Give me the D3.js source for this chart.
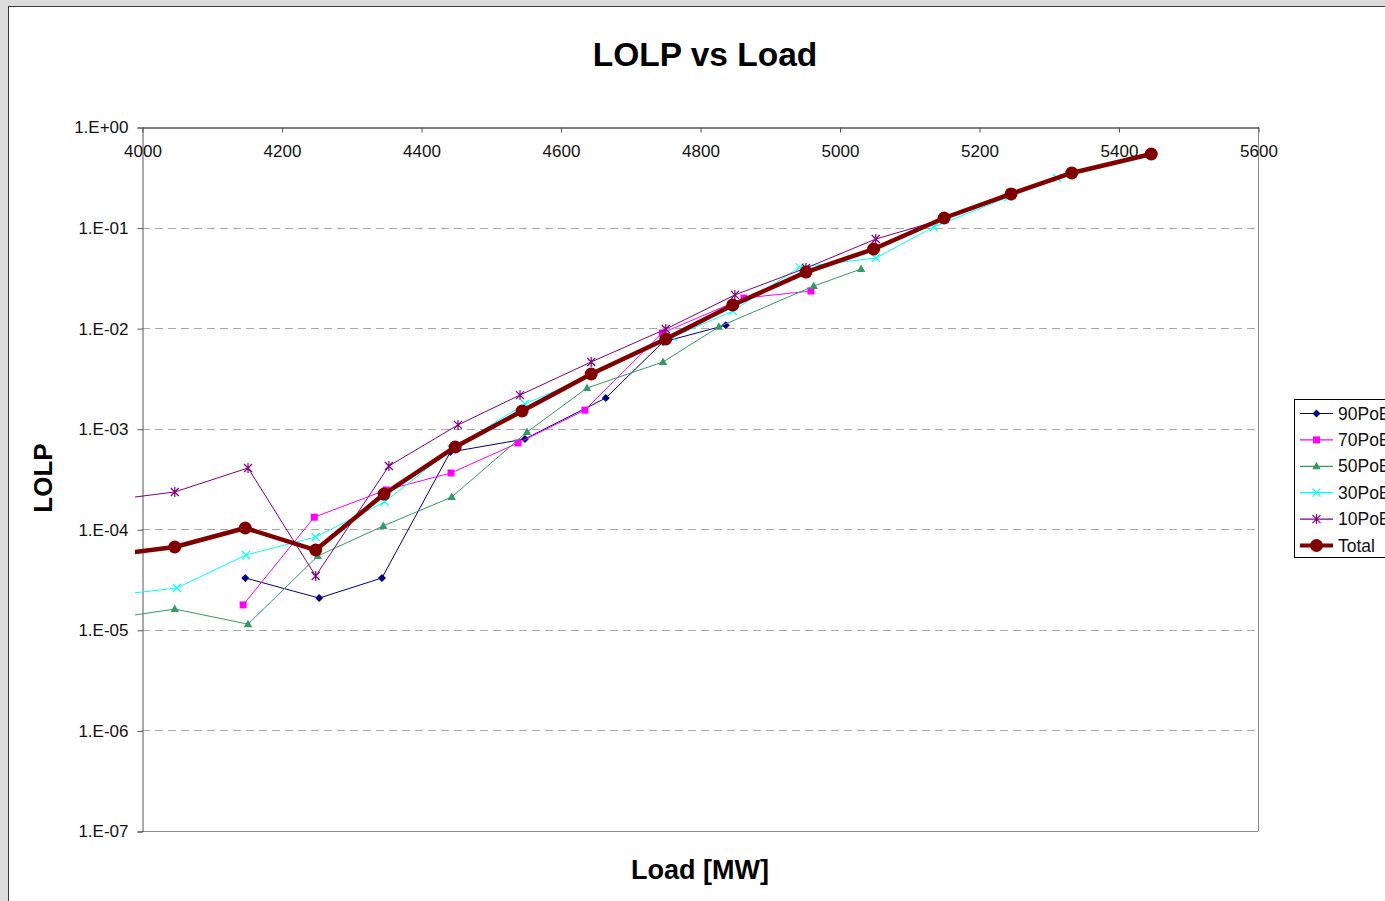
<!DOCTYPE html>
<html>
<head>
<meta charset="utf-8">
<script src="https://cdn.jsdelivr.net/npm/d3@7"></script>
<style>
  html, body { margin: 0; padding: 0; background: #dcdcdc; }
  svg { display: block; }
  text { font-family: "Liberation Sans", Arial, Helvetica, sans-serif; }
</style>
</head>
<body>
<svg id="chart" width="1385" height="901"></svg>
<script>
// Load levels [MW] and LOLP per series
const load90 = [4148, 4254, 4344, 4442, 4549, 4665, 4747, 4837];
const lolp90 = [3.28e-5, 2.07e-5, 3.28e-5, 5.86e-4, 7.9e-4, 2.02e-3, 7.28e-3, 0.0107];

const load70 = [4145, 4247, 4350, 4443, 4539, 4635, 4746, 4863, 4959];
const lolp70 = [1.77e-5, 1.32e-4, 2.46e-4, 3.63e-4, 7.21e-4, 1.53e-3, 8.95e-3, 0.0199, 0.0234];

const load50 = [3950, 4047, 4152, 4252, 4346, 4444, 4552, 4638, 4747, 4827, 4963, 5031];
const lolp50 = [1.28e-5, 1.61e-5, 1.14e-5, 5.42e-5, 1.08e-4, 2.09e-4, 9.27e-4, 2.54e-3, 4.61e-3, 0.0103, 0.0262, 0.0387];

const load30 = [3950, 4050, 4149, 4249, 4348, 4444, 4549, 4645, 4761, 4847, 4943, 5052, 5135, 5242, 5312];
const lolp30 = [2.17e-5, 2.61e-5, 5.55e-5, 8.38e-5, 1.87e-4, 6.29e-4, 1.76e-3, 3.42e-3, 8.17e-3, 0.0148, 0.0405, 0.0498, 0.1014, 0.201, 0.311];

const load10 = [3950, 4047, 4152, 4249, 4354, 4453, 4542, 4644, 4751, 4850, 4952, 5052, 5150, 5246, 5333, 5447];
const lolp10 = [1.93e-4, 2.35e-4, 4.07e-4, 3.43e-5, 4.26e-4, 1.09e-3, 2.16e-3, 4.61e-3, 9.8e-3, 0.0214, 0.0396, 0.0769, 0.1217, 0.221, 0.357, 0.539];

const loadTotal = [3950, 4047, 4148, 4249, 4347, 4449, 4545, 4644, 4751, 4847, 4952, 5049, 5150, 5246, 5333, 5447];
const lolpTotal = [5.48e-5, 6.67e-5, 1.03e-4, 6.22e-5, 2.24e-4, 6.58e-4, 1.5e-3, 3.5e-3, 7.8e-3, 0.017, 0.0361, 0.0612, 0.1245, 0.216, 0.349, 0.539];

const seriesNames = ["90PoE", "70PoE", "50PoE", "30PoE", "10PoE", "Total"];
const xTicks = [4000, 4200, 4400, 4600, 4800, 5000, 5200, 5400, 5600];
const yTicks = [1, 1e-1, 1e-2, 1e-3, 1e-4, 1e-5, 1e-6, 1e-7];

const series = [
  { name: seriesNames[0], load: load90, lolp: lolp90, color: "#000080", marker: "diamond", width: 1 },
  { name: seriesNames[1], load: load70, lolp: lolp70, color: "#ff00ff", marker: "square", width: 1 },
  { name: seriesNames[2], load: load50, lolp: lolp50, color: "#339966", marker: "triangle", width: 1 },
  { name: seriesNames[3], load: load30, lolp: lolp30, color: "#00ffff", marker: "cross", width: 1 },
  { name: seriesNames[4], load: load10, lolp: lolp10, color: "#800080", marker: "star", width: 1 },
  { name: seriesNames[5], load: loadTotal, lolp: lolpTotal, color: "#800000", marker: "circle", width: 4.5 }
];

const svg = d3.select("#chart");

// chart panel
svg.append("rect").attr("x", 8.5).attr("y", 6.5).attr("width", 1400).attr("height", 920)
  .attr("fill", "#ffffff").attr("stroke", "#3a3a3a").attr("stroke-width", 1);

const plot = { left: 142, right: 1258, top: 127, bottom: 831 };
const x = d3.scaleLinear().domain([4000, 5600]).range([plot.left, plot.right]);
const y = d3.scaleLog().domain([1e-7, 1]).range([plot.bottom, plot.top]);

// gridlines
svg.append("g").selectAll("line").data(yTicks.filter(v => v < 1 && v > 1e-7)).join("line")
  .attr("x1", plot.left).attr("x2", plot.right)
  .attr("y1", d => Math.round(y(d)) + 0.5).attr("y2", d => Math.round(y(d)) + 0.5)
  .attr("stroke", "#a8a8a8").attr("stroke-width", 1).attr("stroke-dasharray", "8,5");

// plot frame: right and bottom edges
svg.append("line").attr("x1", plot.right + 0.5).attr("x2", plot.right + 0.5)
  .attr("y1", plot.top).attr("y2", plot.bottom).attr("stroke", "#8c8c8c");
svg.append("line").attr("x1", plot.left).attr("x2", plot.right)
  .attr("y1", plot.bottom + 0.5).attr("y2", plot.bottom + 0.5).attr("stroke", "#8c8c8c");

// y axis (log)
const fmtExp = v => {
  const e = Math.round(Math.log10(v));
  const s = e < 0 ? "-" : "+";
  return "1.E" + s + String(Math.abs(e)).padStart(2, "0");
};
const yAxis = d3.axisLeft(y).tickValues(yTicks).tickFormat(fmtExp).tickSize(5).tickPadding(9);
const gy = svg.append("g").attr("transform", `translate(${plot.left + 0.5},0.5)`).call(yAxis);
gy.select(".domain").attr("stroke", "#555");
gy.selectAll(".tick line").attr("stroke", "#555");
gy.selectAll("text").attr("font-size", 17).attr("fill", "#111");

// x axis along the top edge, labels beneath the line
const xAxis = d3.axisBottom(x).tickValues(xTicks).tickFormat(d3.format("d")).tickSize(5).tickPadding(12).tickSizeOuter(0);
const gx = svg.append("g").attr("transform", `translate(0.5,${plot.top + 0.5})`).call(xAxis);
gx.select(".domain").attr("stroke", "#000");
gx.selectAll(".tick line").attr("stroke", "#555");
gx.selectAll("text").attr("font-size", 17).attr("fill", "#111");

// clip for series
svg.append("clipPath").attr("id", "clip").append("rect")
  .attr("x", 135).attr("y", plot.top - 20).attr("width", plot.right - 135 + 20).attr("height", plot.bottom - plot.top + 40);

const line = d3.line().x(d => x(d[0])).y(d => y(d[1]));
const gSeries = svg.append("g").attr("clip-path", "url(#clip)");

function drawMarker(g, type, color, cx, cy, big) {
  if (type === "diamond") {
    g.append("path").attr("d", `M${cx},${cy - 4}L${cx + 4},${cy}L${cx},${cy + 4}L${cx - 4},${cy}Z`).attr("fill", color);
  } else if (type === "square") {
    g.append("rect").attr("x", cx - 3.5).attr("y", cy - 3.5).attr("width", 7).attr("height", 7).attr("fill", color);
  } else if (type === "triangle") {
    g.append("path").attr("d", `M${cx},${cy - 4.5}L${cx + 4.2},${cy + 3}L${cx - 4.2},${cy + 3}Z`).attr("fill", color);
  } else if (type === "cross") {
    g.append("path").attr("d", `M${cx - 4},${cy - 4}L${cx + 4},${cy + 4}M${cx - 4},${cy + 4}L${cx + 4},${cy - 4}`)
      .attr("stroke", color).attr("stroke-width", 1.2);
  } else if (type === "star") {
    g.append("path").attr("d", `M${cx - 4},${cy - 4}L${cx + 4},${cy + 4}M${cx - 4},${cy + 4}L${cx + 4},${cy - 4}M${cx},${cy - 5}L${cx},${cy + 5}`)
      .attr("stroke", color).attr("stroke-width", 1.2);
  } else if (type === "circle") {
    g.append("circle").attr("cx", cx).attr("cy", cy).attr("r", big ? 6.5 : 6).attr("fill", color);
  }
}

series.forEach(s => {
  const pts = s.load.map((l, i) => [l, s.lolp[i]]);
  gSeries.append("path").datum(pts).attr("d", line)
    .attr("fill", "none").attr("stroke", s.color).attr("stroke-width", s.width)
    .attr("stroke-linejoin", "round");
  const gm = gSeries.append("g");
  pts.forEach(p => drawMarker(gm, s.marker, s.color, x(p[0]), y(p[1]), true));
});

// legend
const lg = svg.append("g");
lg.append("rect").attr("x", 1294.5).attr("y", 399.5).attr("width", 120).attr("height", 158)
  .attr("fill", "#fff").attr("stroke", "#000");
series.forEach((s, i) => {
  const ly = 413.5 + i * 26.4;
  lg.append("line").attr("x1", 1300).attr("x2", 1333).attr("y1", ly).attr("y2", ly)
    .attr("stroke", s.color).attr("stroke-width", s.width === 1 ? 1.2 : 4);
  drawMarker(lg, s.marker, s.color, 1316.5, ly, s.marker === "circle");
  lg.append("text").attr("x", 1338).attr("y", ly + 6).attr("font-size", 17.5).attr("fill", "#111").text(s.name);
});

// titles
svg.append("text").attr("x", 705).attr("y", 66).attr("text-anchor", "middle")
  .attr("font-size", 33.5).attr("font-weight", "bold").attr("fill", "#000").text("LOLP vs Load");
svg.append("text").attr("x", 700).attr("y", 879).attr("text-anchor", "middle")
  .attr("font-size", 27).attr("font-weight", "bold").attr("fill", "#000").text("Load [MW]");
svg.append("text").attr("transform", "translate(52,478) rotate(-90)").attr("text-anchor", "middle")
  .attr("font-size", 26).attr("font-weight", "bold").attr("fill", "#000").text("LOLP");
</script>
</body>
</html>
